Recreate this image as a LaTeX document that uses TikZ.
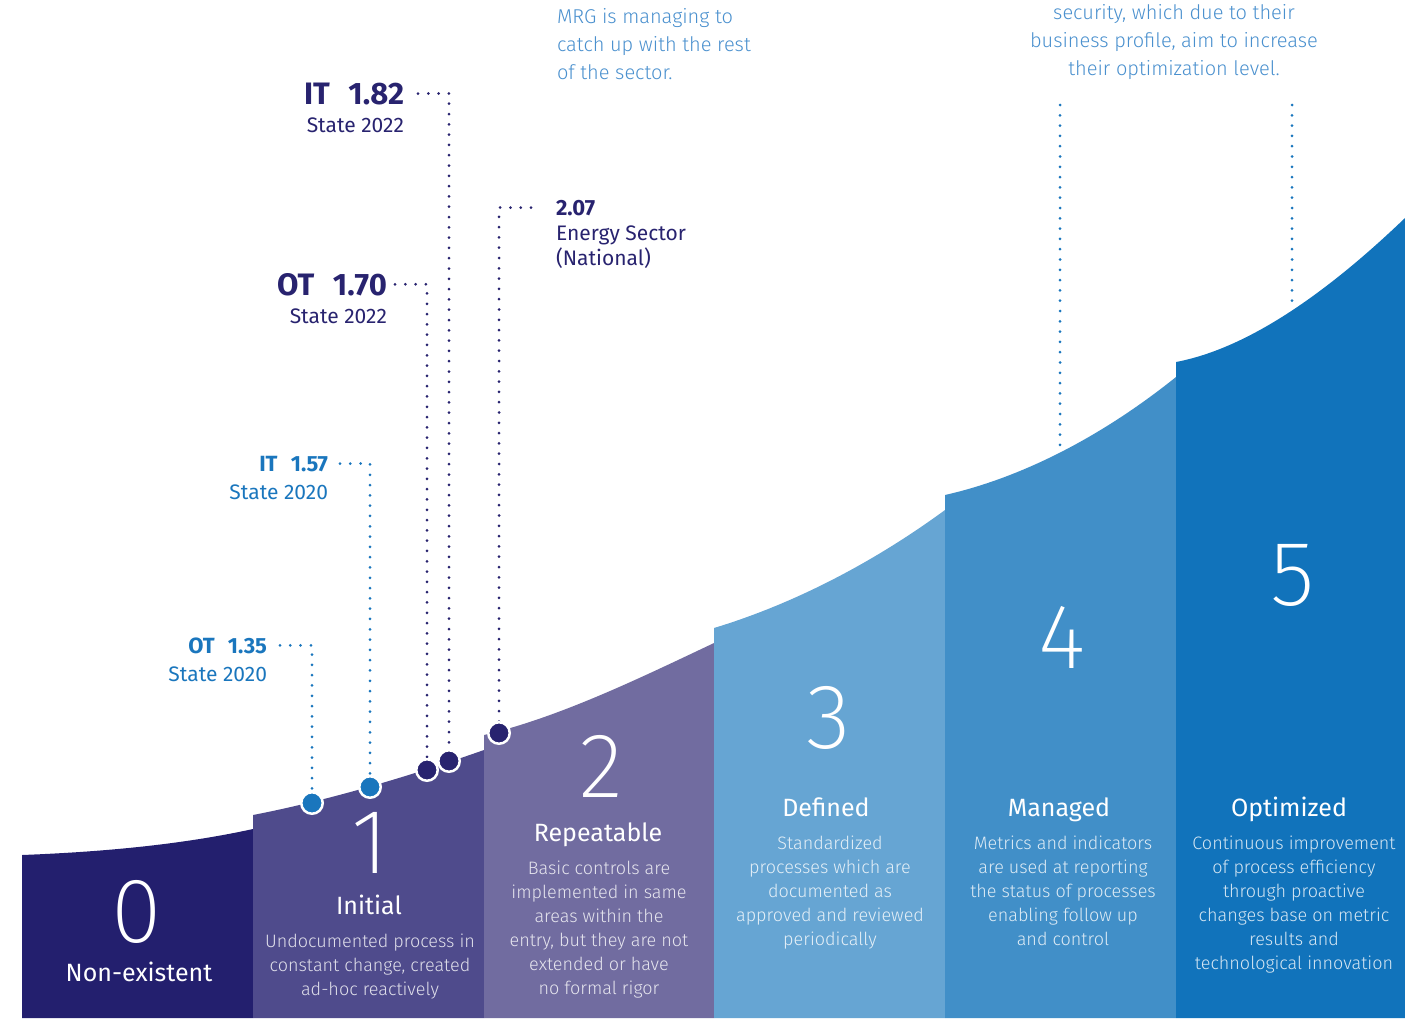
\documentclass[tikz,border=0pt]{standalone}
\usepackage{fontspec}
\setmainfont{Fira Sans}
\newfontfamily\lightf{Fira Sans Light}
\newfontfamily\thinf{Fira Sans ExtraLight}
\definecolor{c0}{HTML}{231F6E}
\definecolor{c1}{HTML}{4F4B8C}
\definecolor{c2}{HTML}{716CA0}
\definecolor{c3}{HTML}{66A5D3}
\definecolor{c4}{HTML}{418FC8}
\definecolor{c5}{HTML}{1173BB}
\definecolor{navy}{HTML}{28236F}
\definecolor{blu}{HTML}{1A76BD}
\definecolor{topblue}{HTML}{4A90CE}
\begin{document}
\begin{tikzpicture}[x=1pt,y=-1pt,
  every node/.style={inner sep=0pt,outer sep=0pt},
  digit/.style={text=white,font=\thinf\fontsize{92}{92}\selectfont,anchor=base},
  ttl/.style={text=white,font=\fontsize{25}{30}\selectfont,anchor=base},
  desc/.style={text=white,text opacity=0.82,font=\lightf\fontsize{18}{24}\selectfont,anchor=base},
  bigval/.style={font=\bfseries\fontsize{31}{36}\selectfont,anchor=base east},
  smallval/.style={font=\bfseries\fontsize{22}{26}\selectfont},
  statetxt/.style={font=\fontsize{21}{26}\selectfont},
  toptxt/.style={text=topblue,font=\lightf\fontsize{20}{28}\selectfont,anchor=base},
  dotline/.style={line width=3pt,line cap=round,dash pattern=on 0pt off 10.3pt},
  marker/.style={circle,minimum size=21.5pt,draw=white,line width=2.5pt}
]
\path[use as bounding box] (0,0) rectangle (1405,1018);

% columns
\fill[c0] (22,1018) -- (22,855) .. controls (100,852) and (180,845) .. (253,829) -- (253,1018) -- cycle;
\fill[c1] (253,1018) -- (253,815) .. controls (330,800) and (410,776) .. (484,750) -- (484,1018) -- cycle;
\fill[c2] (484,1018) -- (484,735) .. controls (560,717) and (640,678) .. (714,643) -- (714,1018) -- cycle;
\fill[c3] (714,1018) -- (714,628) .. controls (790,605) and (870,565) .. (945,510) -- (945,1018) -- cycle;
\fill[c4] (945,1018) -- (945,495) .. controls (1020,478) and (1100,438) .. (1176,377) -- (1176,1018) -- cycle;
\fill[c5] (1176,1018) -- (1176,362) .. controls (1250,348) and (1330,290) .. (1405,218) -- (1405,1018) -- cycle;

% digits
\node[digit] (n0) at (137,942) {0};
\node[digit] (n1) at (370,873) {1};
\node[digit] (n2) at (601,797) {2};
\node[digit] (n3) at (829,748) {3};
\node[digit] (n4) at (1062,668) {4};
\node[digit] (n5) at (1293,605) {5};

% titles
\node[ttl] (t0) at (139,981) {Non-existent};
\node[ttl] (t1) at (369,914) {Initial};
\node[ttl] (t2) at (598,841) {Repeatable};
\node[ttl] (t3) at (826,816) {Defined};
\node[ttl] (t4) at (1059,816) {Managed};
\node[ttl] (t5) at (1289,816) {Optimized};

% descriptions
\foreach \t [count=\i from 0] in {Undocumented process in,{constant change, created},ad-hoc reactively}
  \node[desc] (d1-\i) at (370,947+24*\i) {\t};
\foreach \t [count=\i from 0] in {Basic controls are,implemented in same,areas within the,{entry, but they are not},extended or have,no formal rigor}
  \node[desc] (d2-\i) at (599,874+24*\i) {\t};
\foreach \t [count=\i from 0] in {Standardized,processes which are,documented as,approved and reviewed,periodically}
  \node[desc] (d3-\i) at (830,849+24*\i) {\t};
\foreach \t [count=\i from 0] in {Metrics and indicators,are used at reporting,the status of processes,enabling follow up,and control}
  \node[desc] (d4-\i) at (1063,849+24*\i) {\t};
\foreach \t [count=\i from 0] in {Continuous improvement,of process efficiency,through proactive,changes base on metric,results and,technological innovation}
  \node[desc] (d5-\i) at (1294,849+24*\i) {\t};

% top texts
\node[toptxt,anchor=base west] (m1) at (557,23) {MRG is managing to};
\node[toptxt,anchor=base west] (m2) at (557,51) {catch up with the rest};
\node[toptxt,anchor=base west] (m3) at (557,79) {of the sector.};
\node[toptxt] (r1) at (1174,19) {security, which due to their};
\node[toptxt] (r2) at (1174,47) {business profile, aim to increase};
\node[toptxt] (r3) at (1174,75) {their optimization level.};

% marker positions
\coordinate (q1) at (312,803);
\coordinate (q2) at (370,787);
\coordinate (q3) at (427,770);
\coordinate (q4) at (449,761);
\coordinate (q5) at (499,733);

% labels
\node[smallval,text=blu,anchor=base east] (l1) at (267,653) {OT\hspace{0.6em}1.35};
\node[statetxt,text=blu,anchor=base east] (s1) at (267,681) {State 2020};
\node[smallval,text=blu,anchor=base east] (l2) at (328,471) {IT\hspace{0.6em}1.57};
\node[statetxt,text=blu,anchor=base east] (s2) at (328,499) {State 2020};
\node[bigval,text=navy] (l3) at (387,295) {OT\hspace{0.6em}1.70};
\node[statetxt,text=navy,anchor=base east] (s3) at (387,323) {State 2022};
\node[bigval,text=navy] (l4) at (404,104) {IT\hspace{0.6em}1.82};
\node[statetxt,text=navy,anchor=base east] (s4) at (404,132) {State 2022};
\node[smallval,text=navy,anchor=base west] (l5) at (556,215) {2.07};
\node[statetxt,text=navy,anchor=base west] (s5) at (556,240) {Energy Sector};
\node[statetxt,text=navy,anchor=base west] (s6) at (556,265) {(National)};

% dotted leaders
\draw[dotline,blu] ([xshift=13pt]l1.east) -| (q1);
\draw[dotline,blu] ([xshift=12pt]l2.east) -| (q2);
\draw[dotline,navy] ([xshift=8pt]l3.east) -| (q3);
\draw[dotline,navy] ([xshift=14pt]l4.east) -| (q4);
\draw[dotline,navy] ([xshift=-25pt]l5.west) -| (q5);

% right dotted lines
\coordinate (a4) at (1060,105);
\coordinate (b4) at (1060,452);
\coordinate (a5) at (1292,105);
\coordinate (b5) at (1292,310);
\draw[dotline,blu] (a4) -- (b4);
\draw[dotline,blu] (a5) -- (b5);

% markers on top
\node[marker,fill=blu] (p1) at (q1) {};
\node[marker,fill=blu] (p2) at (q2) {};
\node[marker,fill=navy] (p3) at (q3) {};
\node[marker,fill=navy] (p4) at (q4) {};
\node[marker,fill=navy] (p5) at (q5) {};
\end{tikzpicture}
\end{document}
